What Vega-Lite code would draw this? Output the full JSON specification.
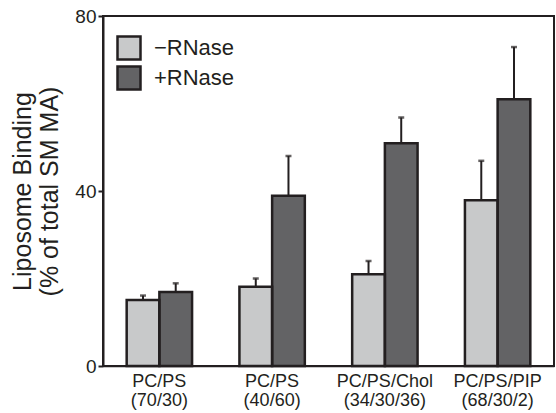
{
  "$schema": "https://vega.github.io/schema/vega-lite/v6.json",
  "autosize": {"type": "none"},
  "width": 451,
  "height": 350,
  "padding": {"left": 103, "top": 16, "right": 2, "bottom": 47},
  "background": "white",
  "config": {
    "font": "Liberation Sans",
    "view": {"stroke": "#231f20", "strokeWidth": 2}
  },
  "data": {
    "values": [
      {"group": "PC/PS|(70/30)", "treatment": "−RNase", "value": 15.1, "upper": 16.1},
      {"group": "PC/PS|(70/30)", "treatment": "+RNase", "value": 16.9, "upper": 18.9},
      {"group": "PC/PS|(40/60)", "treatment": "−RNase", "value": 18.1, "upper": 20.0},
      {"group": "PC/PS|(40/60)", "treatment": "+RNase", "value": 38.9, "upper": 48.0},
      {"group": "PC/PS/Chol|(34/30/36)", "treatment": "−RNase", "value": 21.0, "upper": 24.0},
      {"group": "PC/PS/Chol|(34/30/36)", "treatment": "+RNase", "value": 50.9, "upper": 56.8},
      {"group": "PC/PS/PIP|(68/30/2)", "treatment": "−RNase", "value": 37.9, "upper": 46.9},
      {"group": "PC/PS/PIP|(68/30/2)", "treatment": "+RNase", "value": 61.0, "upper": 72.9}
    ]
  },
  "encoding": {
    "x": {
      "field": "group", "type": "nominal", "sort": null,
      "scale": {"paddingInner": 0.42, "paddingOuter": 0.21},
      "axis": {
        "title": null, "labelAngle": 0, "ticks": false,
        "labelExpr": "split(datum.label, '|')",
        "labelFontSize": 18, "labelColor": "#231f20", "labelPadding": 6,
        "labelLineHeight": 19,
        "domainColor": "#231f20", "domainWidth": 1.5
      }
    },
    "xOffset": {
      "field": "treatment", "type": "nominal",
      "sort": ["−RNase", "+RNase"],
      "scale": {"paddingInner": 0, "paddingOuter": 0}
    }
  },
  "layer": [
    {
      "mark": {"type": "rule", "stroke": "#231f20", "strokeWidth": 2},
      "encoding": {
        "y": {"field": "value", "type": "quantitative"},
        "y2": {"field": "upper"}
      }
    },
    {
      "mark": {"type": "tick", "color": "#231f20", "size": 6, "thickness": 2.5, "orient": "horizontal"},
      "encoding": {
        "y": {"field": "upper", "type": "quantitative"}
      }
    },
    {
      "mark": {"type": "bar"},
      "encoding": {
        "y": {
          "field": "value", "type": "quantitative",
          "scale": {"domain": [0, 80], "nice": false},
          "axis": {
            "values": [0, 40, 80],
            "title": ["Liposome Binding", "(% of total SM MA)"],
            "titleFontSize": 25, "titleFontWeight": "normal", "titleLineHeight": 27,
            "titleColor": "#231f20", "titlePadding": 12,
            "labelFontSize": 19, "labelColor": "#231f20", "labelPadding": 2,
            "tickSize": 5, "tickWidth": 2, "tickColor": "#231f20",
            "domainColor": "#231f20", "domainWidth": 2,
            "grid": false
          }
        },
        "fill": {
          "field": "treatment", "type": "nominal",
          "scale": {"domain": ["−RNase", "+RNase"], "range": ["#c8c9ca", "#636365"]},
          "legend": {
            "title": null, "orient": "none", "legendX": 13, "legendY": 19,
            "symbolType": "square", "symbolSize": 529,
            "symbolOpacity": 1,
            "labelFontSize": 22, "labelColor": "#231f20", "labelOffset": 12,
            "rowPadding": -10, "padding": 0,
            "encode": {"symbols": {"update": {"stroke": {"value": "#231f20"}, "strokeWidth": {"value": 2.5}}}}
          }
        }
      }
    },
    {
      "mark": {"type": "bar", "filled": false, "stroke": "#231f20", "strokeWidth": 2.5},
      "encoding": {
        "y": {"field": "value", "type": "quantitative"}
      }
    }
  ]
}
